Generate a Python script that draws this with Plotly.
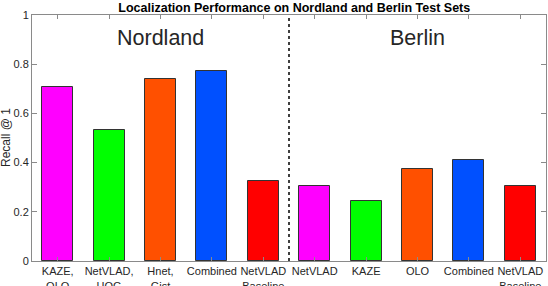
import plotly.graph_objects as go

categories = ["KAZE,<br>OLO", "NetVLAD,<br>HOG", "Hnet,<br>Gist", "Combined", "NetVLAD<br>Baseline",
              "NetVLAD", "KAZE", "OLO", "Combined", "NetVLAD<br>Baseline"]
positions = [1, 2, 3, 4, 5, 6, 7, 8, 9, 10]
recall = [0.707, 0.533, 0.740, 0.772, 0.325, 0.305, 0.244, 0.374, 0.410, 0.305]
colors = ["#FF00FF", "#00FF00", "#FF5000", "#0050FF", "#FF0000",
          "#FF00FF", "#00FF00", "#FF5000", "#0050FF", "#FF0000"]
y_ticks = [0, 0.2, 0.4, 0.6, 0.8, 1]
y_ticklabels = ["0", "0.2", "0.4", "0.6", "0.8", "1"]
groups = ["Nordland", "Berlin"]
group_centers = [3, 8]
divider = 5.5

FONT = "Liberation Sans, Arial, sans-serif"
AXC = "#8a8a8a"

fig = go.Figure()
fig.add_trace(go.Bar(
    x=positions, y=recall, width=0.6,
    marker=dict(color=colors, line=dict(color="#333333", width=1)),
    showlegend=False, hoverinfo="skip",
))

fig.add_shape(type="line", xref="x", yref="y", x0=divider, x1=divider, y0=0, y1=1,
              line=dict(color="black", width=1.5, dash="dot"))

for g, c in zip(groups, group_centers):
    fig.add_annotation(x=c, y=0.905, xref="x", yref="y", text=g, showarrow=False,
                       xanchor="center", yanchor="middle",
                       font=dict(family=FONT, size=21.5, color="#262626"))

fig.add_annotation(x=0, y=0.5, xref="paper", yref="paper", text="Recall @ 1", showarrow=False,
                   textangle=-90, xanchor="center", yanchor="middle", xshift=-26,
                   font=dict(family=FONT, size=12, color="#262626"))

fig.update_layout(
    width=548, height=286,
    margin=dict(l=32, r=2, t=15, b=25, autoexpand=False),
    paper_bgcolor="white", plot_bgcolor="white",
    title=dict(text="<b>Localization Performance on Nordland and Berlin Test Sets</b>",
               x=0.537, xanchor="center", y=0.972, yanchor="middle",
               font=dict(family=FONT, size=12.5, color="black")),
    font=dict(family=FONT, size=11, color="#262626"),
    bargap=0,
)
fig.update_xaxes(
    range=[0.5, 10.5], tickmode="array", tickvals=positions, ticktext=categories,
    ticks="inside", ticklen=4, tickcolor=AXC, showline=True, linecolor=AXC, linewidth=1,
    mirror="ticks", showgrid=False, zeroline=False, automargin=False,
    tickfont=dict(family=FONT, size=11, color="#262626"),
)
fig.update_yaxes(
    range=[0, 1], tickmode="array", tickvals=y_ticks, ticktext=y_ticklabels,
    ticks="inside", ticklen=5, tickcolor=AXC, showline=True, linecolor=AXC, linewidth=1,
    mirror="ticks", showgrid=False, zeroline=False, automargin=False,
    tickfont=dict(family=FONT, size=11, color="#262626"),
)

fig.write_html("out.html", config={"displayModeBar": False},
               post_script="document.body.style.margin='0';document.body.style.overflow='hidden';")
